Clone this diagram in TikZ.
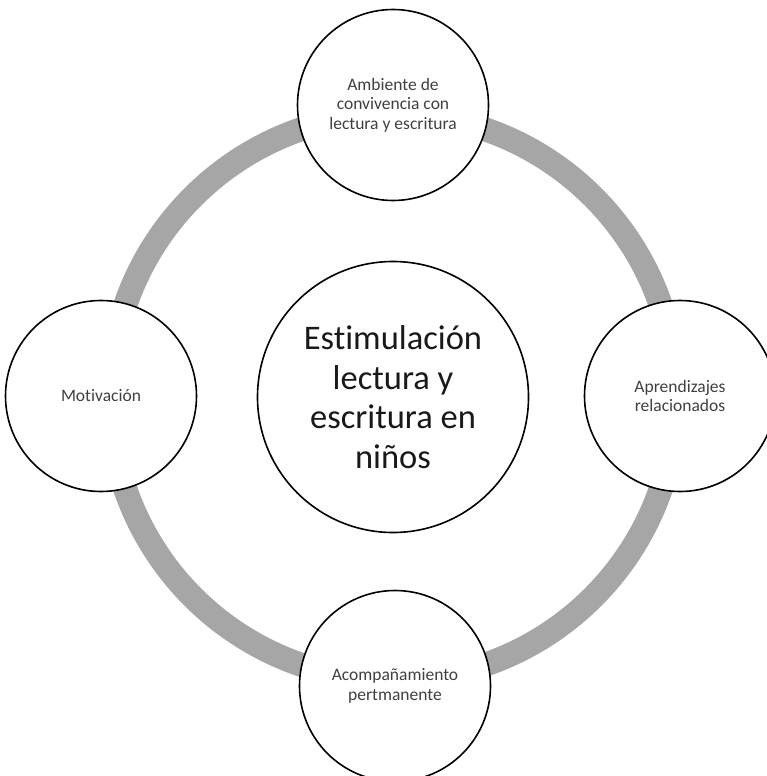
\documentclass[tikz,border=0pt]{standalone}
\usepackage{fontspec}
\setmainfont[Ligatures={NoCommon,TeX}]{Carlito}
\definecolor{ringgray}{HTML}{A6A6A6}
\definecolor{txtgray}{HTML}{404040}
\tikzset{
  ring/.style={draw=ringgray, line width=24pt},
  sat/.style={circle, draw=black, line width=1.6pt, fill=white, minimum size=191pt, inner sep=0pt, align=center, text=txtgray, font=\fontsize{17.5}{19.5}\selectfont},
  hub/.style={circle, draw=black, line width=1.6pt, fill=white, minimum size=271pt, inner sep=0pt, align=center, text=black!90, font=\fontsize{34.5}{39.5}\selectfont}
}
\begin{document}
\begin{tikzpicture}[x=1pt,y=-1pt]
\useasboundingbox (0,0) rectangle (767,776);
\clip (0,0) rectangle (767,776);
\coordinate (c) at (393,397);
\draw[ring] (c) circle[radius=283];
\node[hub] (hub) at (c) {Estimulación\\lectura y\\escritura en\\niños};
\node[sat] (top) at (393,105) {Ambiente de\\convivencia con\\lectura y escritura};
\node[sat] (right) at (680,396) {Aprendizajes\\relacionados};
\node[sat] (left) at (101,396) {Motivación};
\node[sat] (bottom) at (395,686) {Acompañamiento\\pertmanente};
\end{tikzpicture}
\end{document}
